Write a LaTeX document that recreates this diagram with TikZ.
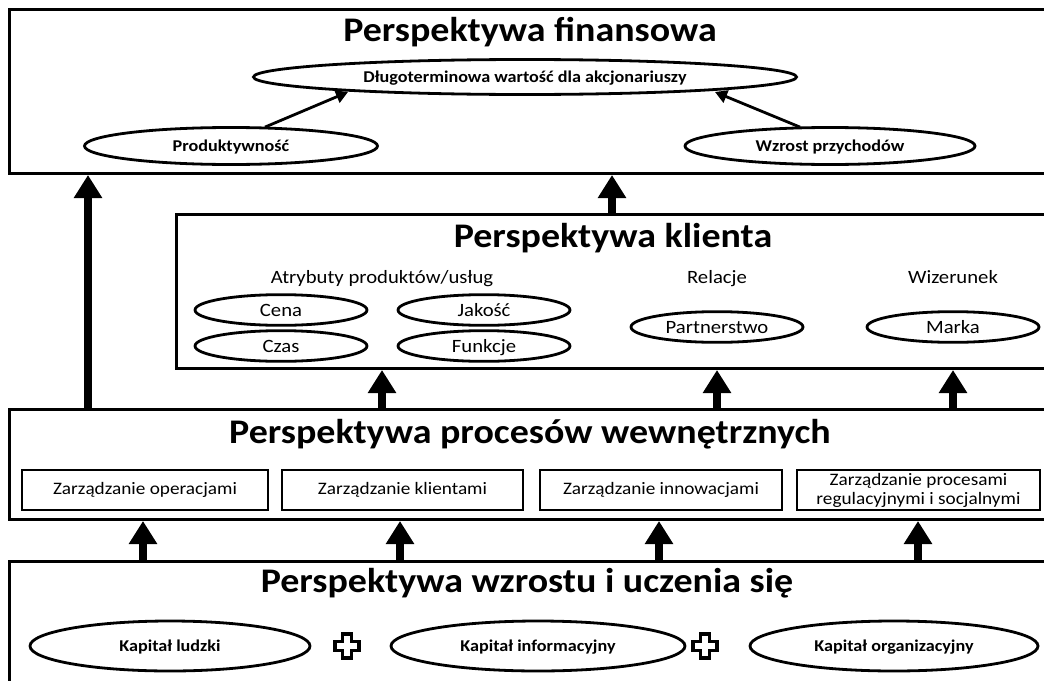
\documentclass[tikz,border=0pt]{standalone}
\usepackage{fontspec}
\setmainfont{Carlito}[FakeStretch=1.1]
\usetikzlibrary{arrows.meta,shapes.geometric,calc}

\tikzset{
  panel/.style={draw, rectangle, line width=3pt, inner sep=0pt, anchor=north west},
  ptitle/.style={font=\fontsize{34.5}{36}\selectfont\bfseries, inner sep=0pt},
  oval/.style={draw, ellipse, line width=2.8pt, inner sep=0pt},
  smallb/.style={font=\fontsize{16.5}{18}\selectfont\bfseries, text height=15pt, text depth=3.6pt},
  midtxt/.style={font=\fontsize{18.8}{20}\selectfont, text height=17.5pt, text depth=4.2pt},
  procbox/.style={draw, rectangle, line width=2.6pt, inner sep=0pt, minimum height=40pt,
                  align=center, font=\fontsize{17.5}{19}\selectfont},
  blockarrow/.style={line width=8pt, -{Triangle[width=27pt,length=23pt]}},
  thinarrow/.style={line width=2.8pt, -{Triangle[width=13pt,length=12pt]}},
  plus/.style={draw, line width=3.2pt, fill=white, line join=miter},
}

\begin{document}
\begin{tikzpicture}[x=1pt,y=-1pt]
\useasboundingbox (0,0) rectangle (1044,680);
\clip (0,0) rectangle (1044,680);
\fill[white] (0,0) rectangle (1044,680);

% ---- panels ----
\node[panel, minimum width=1060pt, minimum height=164pt] (p1) at (8,8) {};
\node[panel, minimum width=880pt, minimum height=154pt] (p2) at (175,213) {};
\node[panel, minimum width=1060pt, minimum height=110pt] (p3) at (8,408) {};
\node[panel, minimum width=1060pt, minimum height=140pt] (p4) at (8,560) {};

% ---- Perspektywa finansowa ----
\node[ptitle] (t1) at (530,32) {Perspektywa finansowa};
\node[oval, minimum width=543pt, minimum height=35pt, smallb] (dlug) at (525,77)
  {Długoterminowa wartość dla akcjonariuszy};
\node[oval, minimum width=293pt, minimum height=37pt, smallb] (prod) at (231,146)
  {Produktywność};
\node[oval, minimum width=290pt, minimum height=37pt, smallb] (wzr) at (830,146)
  {Wzrost przychodów};
\draw[thinarrow] ($(prod.north)+(34,1)$) coordinate (pa) (pa) -- ($(dlug.center)+(-177,15)$);
\draw[thinarrow] ($(wzr.north)+(-30,1)$) coordinate (wa) (wa) -- ($(dlug.center)+(190,15)$);

% ---- Perspektywa klienta ----
\node[ptitle] (t2) at (613,238) {Perspektywa klienta};
\node[midtxt] (atr) at (382,277) {Atrybuty produktów/usług};
\node[midtxt] (rel) at (717,277) {Relacje};
\node[midtxt] (wiz) at (953,277) {Wizerunek};
\node[oval, minimum width=172pt, minimum height=29pt, midtxt] (cena) at (281,310) {Cena};
\node[oval, minimum width=172pt, minimum height=29pt, midtxt] (jak) at (484,310) {Jakość};
\node[oval, minimum width=172pt, minimum height=29pt, midtxt] (czas) at (281,346) {Czas};
\node[oval, minimum width=172pt, minimum height=29pt, midtxt] (fun) at (484,346) {Funkcje};
\node[oval, minimum width=172pt, minimum height=29pt, midtxt] (part) at (717,327) {Partnerstwo};
\node[oval, minimum width=172pt, minimum height=29pt, midtxt] (mar) at (953,327) {Marka};

% ---- Perspektywa procesów wewnętrznych ----
\node[ptitle] (t3) at (530,434) {Perspektywa procesów wewnętrznych};
\node[procbox, minimum width=246pt] (zo) at (145,490) {Zarządzanie operacjami};
\node[procbox, minimum width=241pt] (zk) at (402.5,490) {Zarządzanie klientami};
\node[procbox, minimum width=242pt] (zi) at (661,490) {Zarządzanie innowacjami};
\node[procbox, minimum width=243pt] (zr) at (918.5,490) {Zarządzanie procesami\\regulacyjnymi i socjalnymi};

% ---- Perspektywa wzrostu i uczenia się ----
\node[ptitle] (t4) at (527,583) {Perspektywa wzrostu i uczenia się};
\node[oval, minimum width=280pt, minimum height=50pt, smallb] (kl) at (170,646) {Kapitał ludzki};
\node[oval, minimum width=294pt, minimum height=50pt, smallb] (ki) at (538,646) {Kapitał informacyjny};
\node[oval, minimum width=288pt, minimum height=50pt, smallb] (ko) at (894,646) {Kapitał organizacyjny};

% plus signs between the capital ovals
\foreach \cx/\nm in {347/plA, 705/plB}{
  \coordinate (\nm) at (\cx,646);
  \draw[plus] ($(\nm)+(-4.5,-12)$) -- ++(9,0) -- ++(0,7.5) -- ++(7.5,0) -- ++(0,9) -- ++(-7.5,0)
    -- ++(0,7.5) -- ++(-9,0) -- ++(0,-7.5) -- ++(-7.5,0) -- ++(0,-9) -- ++(7.5,0) -- cycle;
}

% ---- block arrows between panels ----
\coordinate (lx) at (88,0);
\draw[blockarrow] (lx |- p3.north) -- (lx |- p1.south);
\draw[blockarrow] (t2 |- p2.north) ++(-1pt,0) coordinate (kx) (kx) -- (kx |- p1.south);
\draw[blockarrow] (atr |- p3.north) -- (atr |- p2.south);
\draw[blockarrow] (rel |- p3.north) -- (rel |- p2.south);
\draw[blockarrow] (wiz |- p3.north) -- (wiz |- p2.south);
\draw[blockarrow] (zo |- p4.north) ++(-2pt,0) coordinate (a1) (a1) -- (a1 |- p3.south);
\draw[blockarrow] (zk |- p4.north) ++(-2.5pt,0) coordinate (a2) (a2) -- (a2 |- p3.south);
\draw[blockarrow] (zi |- p4.north) ++(-2pt,0) coordinate (a3) (a3) -- (a3 |- p3.south);
\draw[blockarrow] (zr |- p4.north) ++(-0.5pt,0) coordinate (a4) (a4) -- (a4 |- p3.south);
\end{tikzpicture}
\end{document}
